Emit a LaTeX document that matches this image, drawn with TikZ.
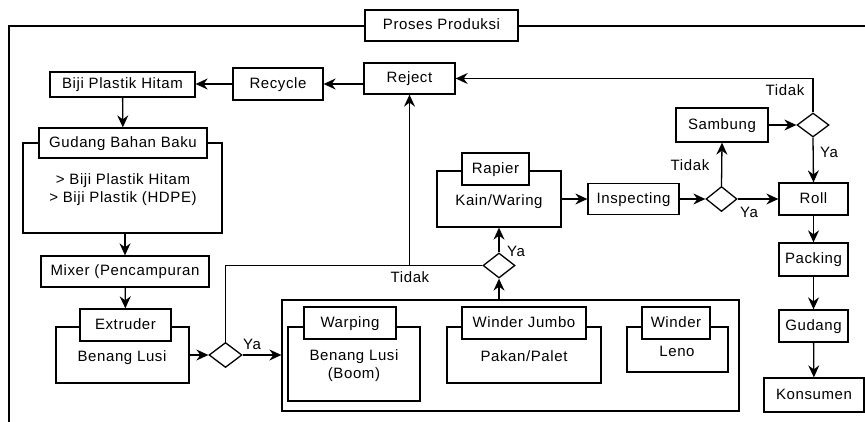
\documentclass[tikz,border=0pt]{standalone}
\usepackage{fontspec}
\setmainfont[LetterSpace=4]{Liberation Sans}
\usetikzlibrary{arrows.meta,shapes.geometric}

\tikzset{
  blok/.style={draw, line width=1.3pt, fill=white, inner sep=0pt, text height=11pt, text depth=2.5pt, font=\fontsize{15}{19}\selectfont},
  cek/.style={diamond, draw, line width=1.3pt, fill=white, inner sep=0pt},
  tulisan/.style={inner sep=0pt, align=center, font=\fontsize{15}{18.5}\selectfont},
  teks/.style={tulisan, text height=10.7pt, text depth=0pt},
  panah/.style={-{Stealth[length=12pt,width=11pt,inset=4pt]}, line width=1.3pt},
  garis/.style={line width=1.3pt}
}

\begin{document}
\begin{tikzpicture}[x=1pt, y=-1pt]
        \useasboundingbox (0,0) rectangle (865,422);
        \clip (0,0) rectangle (865,422);

        % Frame
        \draw[garis] (9,430) -- (9,26) -- (870,26);
        \node[blok, minimum width=153pt, minimum height=31pt] (judul) at (441.5,25.5) {Proses Produksi};

        % Pieces
        \node[blok, minimum width=145pt, minimum height=25pt] (biji) at (122.5,84.5) {Biji Plastik Hitam};
        \node[blok, minimum width=90pt, minimum height=32pt] (recycle) at (278,84) {Recycle};
        \node[blok, minimum width=91pt, minimum height=31pt] (reject) at (409.5,78.5) {Reject};

        \node[blok, minimum width=199pt, minimum height=90pt] (gbb) at (122.5,188) {};
        \node[blok, minimum width=168pt, minimum height=30pt] (gbbjudul) at (123,143) {Gudang Bahan Baku};
        \node[tulisan] (gbbisi) at (123,189.5) {> Biji Plastik Hitam\\> Biji Plastik (HDPE)};

        \node[blok, minimum width=168pt, minimum height=31pt] (mixer) at (125,271.5) {Mixer (Pencampuran};

        \node[blok, minimum width=133pt, minimum height=56pt] (ext) at (122.5,355) {};
        \node[blok, minimum width=91pt, minimum height=32pt] (extjudul) at (125.5,325) {Extruder};
        \node[teks] (extisi) at (122,356) {Benang Lusi};

        \node[cek, minimum width=33pt, minimum height=25pt] (cek1) at (225.5,355) {};

        \node[blok, minimum width=457pt, minimum height=111pt] (besar) at (510.5,355.5) {};
        \node[blok, minimum width=132pt, minimum height=74pt] (warp) at (354,364) {};
        \node[blok, minimum width=92pt, minimum height=32pt] (warpjudul) at (350,323) {Warping};
        \node[tulisan] (warpisi) at (354,365.5) {Benang Lusi\\(Boom)};
        \node[blok, minimum width=154pt, minimum height=56pt] (jumbo) at (524,355) {};
        \node[blok, minimum width=124pt, minimum height=32pt] (jumbojudul) at (524,323) {Winder Jumbo};
        \node[teks] (jumboisi) at (524,356) {Pakan/Palet};
        \node[blok, minimum width=101pt, minimum height=45pt] (winder) at (677.5,349.5) {};
        \node[blok, minimum width=68pt, minimum height=32pt] (winderjudul) at (676,323) {Winder};
        \node[teks] (winderisi) at (677,351) {Leno};

        \node[cek, minimum width=32pt, minimum height=25pt] (cek3) at (499,265.5) {};

        \node[blok, minimum width=124pt, minimum height=56pt] (rapier) at (499,199) {};
        \node[blok, minimum width=67pt, minimum height=32pt] (rapierjudul) at (495.5,169) {Rapier};
        \node[teks] (rapierisi) at (499,200) {Kain/Waring};

        \node[blok, minimum width=91pt, minimum height=31pt] (inspect) at (633.5,199) {Inspecting};
        \node[cek, minimum width=31pt, minimum height=25pt] (cek2) at (721.5,199) {};
        \node[blok, minimum width=92pt, minimum height=34pt] (sambung) at (722,125) {Sambung};
        \node[cek, minimum width=32pt, minimum height=24pt] (cek4) at (813,125) {};

        \node[blok, minimum width=69pt, minimum height=32pt] (roll) at (813.5,199) {Roll};
        \node[blok, minimum width=69pt, minimum height=33pt] (packing) at (813.5,259.5) {Packing};
        \node[blok, minimum width=69pt, minimum height=32pt] (gudang) at (813.5,326) {Gudang};
        \node[blok, minimum width=100pt, minimum height=34pt] (konsumen) at (814,395) {Konsumen};

        % Labels
        \node[teks] (ya1) at (252,344) {Ya};
        \node[teks] (tidak1) at (410,277) {Tidak};
        \node[teks] (ya3) at (516,251) {Ya};
        \node[teks] (tidak2) at (690,165) {Tidak};
        \node[teks] (ya2) at (749,212) {Ya};
        \node[teks] (tidak4) at (785,90) {Tidak};
        \node[teks] (ya4) at (829,152) {Ya};

        % Arrows
        \coordinate (simpang) at (reject.south |- cek3.west);
        \draw[panah] (reject.west |- recycle.east) -- (recycle.east);
        \draw[panah] (recycle.west) -- (recycle.west -| biji.east);
        \draw[panah] (biji) -- (gbbjudul);
        \draw[panah] (gbb.south -| mixer) -- (mixer.north);
        \draw[panah] (mixer) -- (extjudul);
        \draw[panah] (ext.east) -- (cek1.west);
        \draw[panah] (cek1.east) -- (cek1.east -| besar.west);
        \draw[garis] (cek1.north) |- (simpang);
        \draw[panah] (cek3.west) -- (simpang) -- (reject.south);
        \draw[panah] (besar.north -| cek3) -- (cek3.south);
        \draw[panah] (cek3.north) -- (rapier.south);
        \draw[panah] (rapier.east) -- (inspect.west);
        \draw[panah] (inspect) -- (cek2);
        \draw[panah] (cek2.north) -- (sambung.south);
        \draw[panah] (cek2.east) -- (roll.west);
        \draw[panah] (sambung) -- (cek4);
        \draw[panah] (cek4.north) |- (reject.east);
        \draw[panah] (cek4.south) -- (roll.north);
        \draw[panah] (roll) -- (packing);
        \draw[panah] (packing) -- (gudang);
        \draw[panah] (gudang) -- (konsumen);
    \end{tikzpicture}
\end{document}
